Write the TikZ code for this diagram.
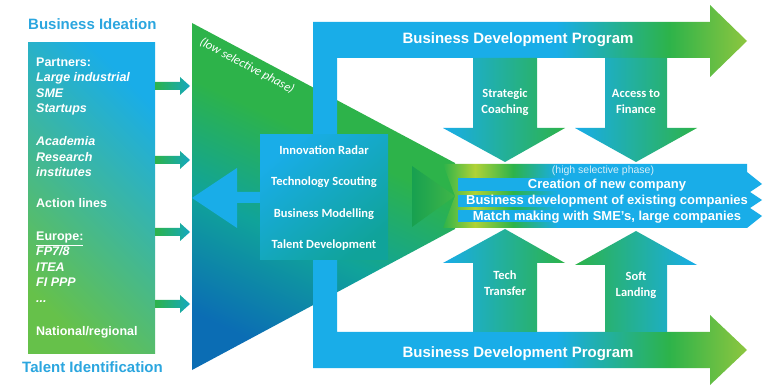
\documentclass[tikz,border=0pt]{standalone}
\usepackage{fontspec}
\setmainfont{Liberation Sans}
\newfontfamily\calib{Carlito}
\definecolor{cblue}{HTML}{19ADE8}
\definecolor{ctitle}{HTML}{2BA6DF}
\definecolor{cgreen}{HTML}{2DB34A}
\definecolor{clgreen}{HTML}{8DC63F}
\definecolor{cyg}{HTML}{B0D236}
\definecolor{cdblue}{HTML}{0B6DB4}
\definecolor{cteal}{HTML}{10A39A}
\definecolor{cgreenL}{HTML}{66C14A}
\definecolor{cdgreen}{HTML}{17A050}
\definecolor{cteal3}{HTML}{14A8C0}
\definecolor{cpale}{HTML}{D5EEF8}
\pgfdeclarehorizontalshading{bdpsh}{100bp}{color(0bp)=(cblue); color(25bp)=(cblue); color(53bp)=(cblue); color(66bp)=(cgreen); color(75bp)=(clgreen); color(100bp)=(clgreen)}
\pgfdeclarehorizontalshading{bandsh}{100bp}{color(0bp)=(cgreen); color(25bp)=(cgreen); color(30bp)=(cyg); color(36bp)=(cgreen); color(43bp)=(cblue); color(100bp)=(cblue)}
\pgfdeclareverticalshading{funsh}{100bp}{color(0bp)=(cdblue); color(25bp)=(cdblue); color(42bp)=(cteal); color(58bp)=(cgreen); color(75bp)=(cgreen); color(100bp)=(cgreen)}
\begin{document}
\begin{tikzpicture}[x=1pt,y=-1pt,
  boxtxt/.style={text=white,inner sep=0,anchor=base west,font=\bfseries\fontsize{12.5}{14}\selectfont},
  boxtxti/.style={boxtxt,font=\bfseries\itshape\fontsize{12.5}{14}\selectfont},
  title/.style={text=ctitle,inner sep=0,anchor=base west,font=\bfseries\fontsize{15}{17}\selectfont},
  bdptxt/.style={text=white,inner sep=0,anchor=base,font=\bfseries\fontsize{15}{17}\selectfont},
  coretxt/.style={text=white,inner sep=0,anchor=base,font=\calib\bfseries\fontsize{12.5}{14}\selectfont},
  bandtxt/.style={text=white,inner sep=0,anchor=base,font=\bfseries\fontsize{13}{15}\selectfont},
  smallarrow/.style={left color=cgreen,right color=cteal3}
]
\fill[white] (0,0) rectangle (769,390);
\useasboundingbox (0,0) rectangle (769,390);

% left box
\shade[top color=cblue,middle color=cteal,bottom color=cgreenL,shading angle=-45] (28,43) rectangle (155,353);

% small arrows
\foreach \yy in {86,160,232,304}
  \shade[smallarrow] (155,\yy-4) -- (180,\yy-4) -- (180,\yy-9) -- (190,\yy) -- (180,\yy+9) -- (180,\yy+4) -- (155,\yy+4) -- cycle;

% funnel
\shade[shading=funsh,shading angle=-25] (192,23) -- (455,163) -- (455,229) -- (192,370) -- cycle;
\shade[left color=cdgreen,right color=cgreen!80!clgreen] (412,166) -- (455,196) -- (412,227) -- cycle;

% left pointing arrow
\fill[cblue] (192,198) -- (237,168) -- (237,192) -- (262,192) -- (262,203) -- (237,203) -- (237,228) -- cycle;

% business development program arrows
\shade[shading=bdpsh] (313,22) -- (710,22) -- (710,5) -- (747,41) -- (710,77) -- (710,58) -- (337,58) -- (337,140) -- (313,140) -- cycle;
\shade[shading=bdpsh] (313,255) -- (337,255) -- (337,332) -- (710,332) -- (710,315) -- (747,350) -- (710,385) -- (710,368) -- (313,368) -- cycle;

% down arrows
\shade[left color=cblue,right color=cgreen] (473,58) -- (537,58) -- (537,128) -- (565,128) -- (505,162) -- (443,128) -- (473,128) -- cycle;
\shade[left color=cblue,right color=cgreen] (605,58) -- (667,58) -- (667,128) -- (697,128) -- (636,162) -- (575,128) -- (605,128) -- cycle;
% up arrows
\shade[left color=cblue,right color=cgreen] (473,332) -- (537,332) -- (537,263) -- (565,263) -- (505,229) -- (443,263) -- (473,263) -- cycle;
\shade[left color=cgreen,right color=cblue] (605,332) -- (667,332) -- (667,265) -- (697,265) -- (636,231) -- (575,265) -- (605,265) -- cycle;

% band
\shade[shading=bandsh] (443,164) -- (747,164) -- (747,172) -- (762,184) -- (750,192) -- (762,200) -- (750,208) -- (762,216) -- (747,228) -- (443,228) -- (455,196) -- cycle;
\fill[cblue] (458,178) rectangle (747,191);
\fill[cblue] (458,195) rectangle (747,207);
\fill[cblue] (458,210) rectangle (747,222);

% core box
\shade[top color=cblue,bottom color=cteal,shading angle=40] (260,135) rectangle (388,260);

% titles
\node[title] (ideation) at (28,30) {Business Ideation};
\node[title] (talent) at (22,372) {Talent Identification};

% left box text
\node[boxtxt]  (l1)  at (36,67)  {Partners:};
\node[boxtxti] (l2)  at (36,82)  {Large industrial};
\node[boxtxti] (l3)  at (36,98)  {SME};
\node[boxtxti] (l4)  at (36,113) {Startups};
\node[boxtxti] (l5)  at (36,146) {Academia};
\node[boxtxti] (l6)  at (36,162) {Research};
\node[boxtxti] (l7)  at (36,177) {institutes};
\node[boxtxt]  (l8)  at (36,208) {Action lines};
\node[boxtxt]  (l9)  at (36,241) {\underline{Europe:}};
\node[boxtxti] (l10) at (36,256) {FP7/8};
\node[boxtxti] (l11) at (36,272) {ITEA};
\node[boxtxti] (l12) at (36,287) {FI PPP};
\node[boxtxti] (l13) at (36,303) {...};
\node[boxtxt]  (l14) at (36,335) {National/regional};

% low selective phase
\node[text=white,inner sep=0,rotate=-28,font=\calib\itshape\fontsize{12.5}{14}\selectfont] (low) at (247,66) {(low selective phase)};

% BDP labels
\node[bdptxt] (bdptop) at (518,43.5) {Business Development Program};
\node[bdptxt] (bdpbot) at (518,357) {Business Development Program};

% arrow labels
\node[coretxt] (sc1) at (505,98) {Strategic};
\node[coretxt] (sc2) at (505,114) {Coaching};
\node[coretxt] (af1) at (636,98) {Access to};
\node[coretxt] (af2) at (636,114) {Finance};
\node[coretxt] (tt1) at (505,280) {Tech};
\node[coretxt] (tt2) at (505,296) {Transfer};
\node[coretxt] (sl1) at (636,281) {Soft};
\node[coretxt] (sl2) at (636,297) {Landing};

% core texts
\node[coretxt] (c1) at (324,155) {Innovation Radar};
\node[coretxt] (c2) at (324,186) {Technology Scouting};
\node[coretxt] (c3) at (324,218) {Business Modelling};
\node[coretxt] (c4) at (324,249) {Talent Development};

% band texts
\node[text=cpale,inner sep=0,anchor=base,font=\fontsize{10.5}{12}\selectfont] (hsp) at (603,174) {(high selective phase)};
\node[bandtxt] (b1) at (607,188.5) {Creation of new company};
\node[bandtxt] (b2) at (607,204.5) {Business development of existing companies};
\node[bandtxt] (b3) at (607,220.5) {Match making with SME’s, large companies};
\end{tikzpicture}
\end{document}
